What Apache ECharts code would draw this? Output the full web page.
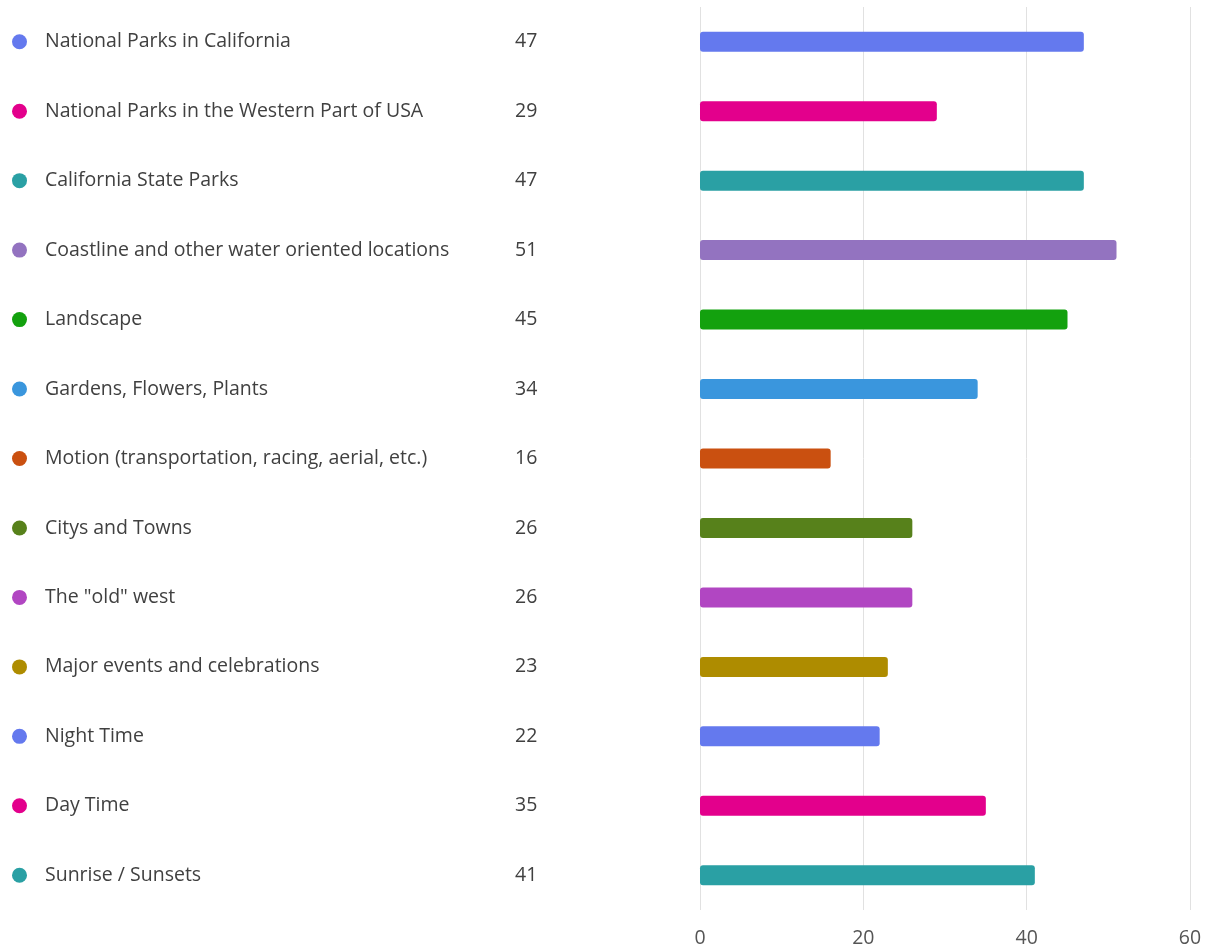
<!DOCTYPE html>
<html>
<head>
<meta charset="utf-8">
<script src="https://cdn.jsdelivr.net/npm/echarts@6/dist/echarts.min.js"></script>
<style>html,body{margin:0;padding:0;background:#fff}#c{width:1207px;height:949px}</style>
</head>
<body>
<div id="c"></div>
<script>
const categories = [
  "National Parks in California",
  "National Parks in the Western Part of USA",
  "California State Parks",
  "Coastline and other water oriented locations",
  "Landscape",
  "Gardens, Flowers, Plants",
  "Motion (transportation, racing, aerial, etc.)",
  "Citys and Towns",
  "The \"old\" west",
  "Major events and celebrations",
  "Night Time",
  "Day Time",
  "Sunrise / Sunsets"
];
const values = [47, 29, 47, 51, 45, 34, 16, 26, 26, 23, 22, 35, 41];
const palette = ["#6479ee", "#e3008c", "#2aa0a4", "#9373c0", "#13a10e", "#3a96dd", "#ca5010", "#57811b", "#b146c2", "#ae8c00"];
const xTicks = [0, 20, 40, 60];

const FONT = '"Open Sans", "Noto Sans", sans-serif';
const FS = 19.5;
const rich = {
  name: { width: 470, fontSize: FS, color: '#404040', fontFamily: FONT, align: 'left' },
  val: { fontSize: FS, color: '#404040', fontFamily: FONT, align: 'left' },
  sp: { width: 18 }
};
palette.forEach((c, i) => {
  rich['d' + i] = { width: 15, height: 15, borderRadius: 7.5, backgroundColor: c };
});

const chart = echarts.init(document.getElementById('c'), null, { renderer: 'canvas' });
chart.setOption({
  animation: false,
  grid: { left: 700, right: 17, top: 7, bottom: 39, containLabel: false },
  xAxis: {
    type: 'value', min: 0, max: 60, interval: 20,
    axisLine: { show: false }, axisTick: { show: false },
    axisLabel: { color: '#555', fontSize: FS, fontFamily: FONT, margin: 18,
      formatter: v => xTicks.includes(v) ? String(v) : '' },
    splitLine: { lineStyle: { color: '#e1e1e1', width: 1 } }
  },
  yAxis: {
    type: 'category', inverse: true, data: categories,
    axisLine: { show: false }, axisTick: { show: false },
    axisLabel: {
      align: 'left', margin: 688,
      formatter: (name, idx) => `{d${idx % palette.length}|}{sp|}{name|${name}}{val|${values[idx]}}`,
      rich: rich
    }
  },
  series: [{
    type: 'bar', data: values.map((v, i) => ({ value: v, itemStyle: { color: palette[i % palette.length] } })),
    barWidth: 20,
    itemStyle: { borderRadius: 3 }
  }]
});
</script>
</body>
</html>
